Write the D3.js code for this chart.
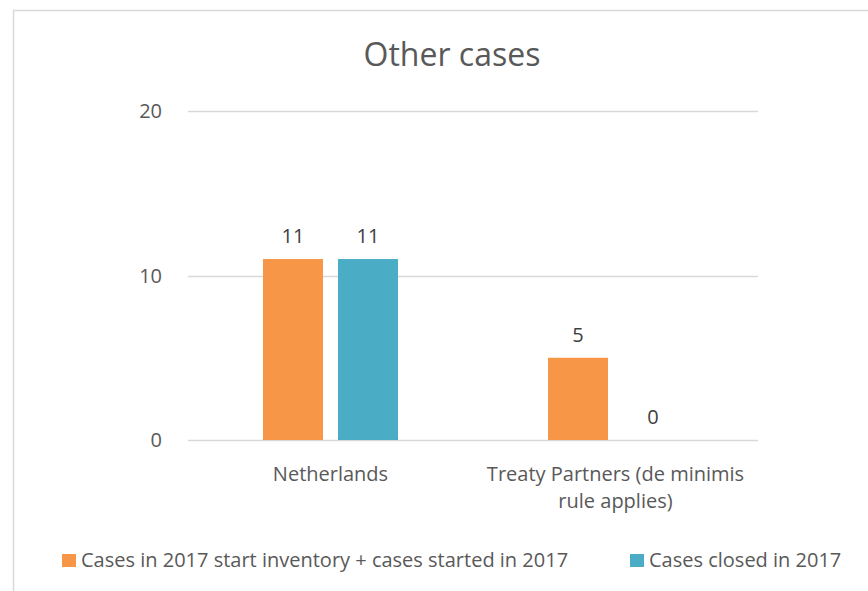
<!DOCTYPE html>
<html><head><meta charset="utf-8">
<script src="https://cdn.jsdelivr.net/npm/d3@7"></script>
<style>body{margin:0;background:#fff}svg{display:block}</style>
</head><body><svg id="c" width="868" height="591"></svg>
<script>
const categories = [["Netherlands"], ["Treaty Partners (de minimis", "rule applies)"]];
const categoryKeys = ["Netherlands", "Treaty Partners (de minimis rule applies)"];
const seriesNames = ["Cases in 2017 start inventory + cases started in 2017", "Cases closed in 2017"];
const seriesStarted = [11, 5];
const seriesClosed = [11, 0];
const yTicks = [0, 10, 20];
const colors = ["#F79646", "#4BACC6"];

const svg = d3.select("#c");
const font = "'Open Sans', sans-serif";
const textColor = "#595959";
svg.append("rect").attr("x", 13.5).attr("y", 10.5).attr("width", 900).attr("height", 700)
  .attr("fill", "#fff").attr("stroke", "#D9D9D9").attr("stroke-width", 1.5);

const x = d3.scaleBand().domain(categoryKeys).range([188, 758]).paddingInner(0).paddingOuter(0);
const y = d3.scaleLinear().domain([0, 20]).range([440, 111]);
const barW = 60, gap = 15;

const g = svg.append("g");
g.selectAll("line.grid").data(yTicks).join("line")
  .attr("x1", 188).attr("x2", 758).attr("y1", d => Math.round(y(d)) + 0.5).attr("y2", d => Math.round(y(d)) + 0.5)
  .attr("stroke", "#D9D9D9").attr("stroke-width", 1.3);
g.selectAll("text.yt").data(yTicks).join("text")
  .attr("x", 162).attr("y", d => y(d) + 7).attr("text-anchor", "end")
  .attr("font-family", font).attr("font-size", 20).attr("fill", textColor).text(d => d);

const series = [seriesStarted, seriesClosed];
series.forEach((vals, si) => {
  categoryKeys.forEach((c, ci) => {
    const cx = x(c) + x.bandwidth() / 2;
    const bx = si === 0 ? cx - gap / 2 - barW : cx + gap / 2;
    const v = vals[ci];
    g.append("rect").attr("x", bx).attr("y", y(v)).attr("width", barW).attr("height", y(0) - y(v))
      .attr("fill", colors[si]);
    g.append("text").attr("x", bx + barW / 2).attr("y", y(v) - 16).attr("text-anchor", "middle")
      .attr("font-family", font).attr("font-size", 20).attr("fill", "#404040").text(v);
  });
});

categories.forEach((lines, ci) => {
  const cx = x(categoryKeys[ci]) + x.bandwidth() / 2;
  lines.forEach((l, li) => {
    g.append("text").attr("x", cx).attr("y", 481 + li * 27).attr("text-anchor", "middle")
      .attr("font-family", font).attr("font-size", 20).attr("fill", textColor).text(l);
  });
});

svg.append("text").attr("x", 452).attr("y", 66).attr("text-anchor", "middle")
  .attr("font-family", font).attr("font-size", 32).attr("fill", textColor).text("Other cases");

const legX = [62, 630];
seriesNames.forEach((n, i) => {
  svg.append("rect").attr("x", legX[i]).attr("y", 554).attr("width", 14).attr("height", 13).attr("fill", colors[i]);
  svg.append("text").attr("x", legX[i] + 19).attr("y", 567).attr("font-family", font).attr("font-size", 20)
    .attr("fill", textColor).text(n);
});
</script></body></html>
